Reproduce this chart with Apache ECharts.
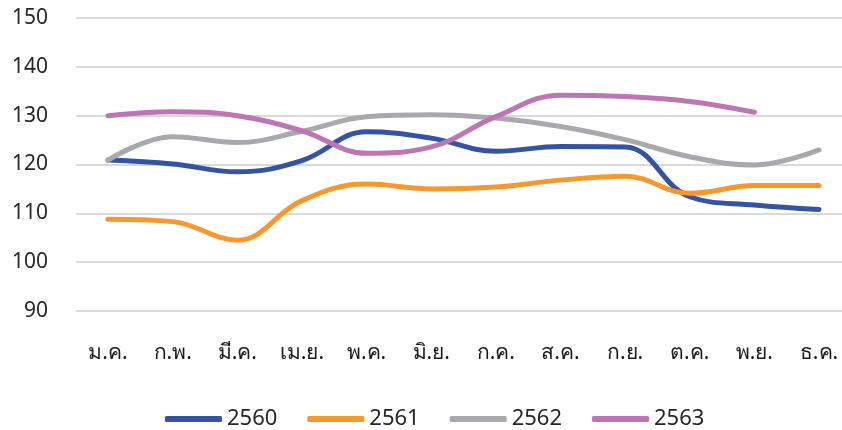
<!DOCTYPE html>
<html>
<head>
<meta charset="utf-8">
<script src="https://cdn.jsdelivr.net/npm/echarts@6/dist/echarts.min.js"></script>
<style>html,body{margin:0;padding:0;background:#fff}#c{width:842px;height:430px}</style>
</head>
<body>
<div id="c"></div>
<script>
const categories = ['ม.ค.','ก.พ.','มี.ค.','เม.ย.','พ.ค.','มิ.ย.','ก.ค.','ส.ค.','ก.ย.','ต.ค.','พ.ย.','ธ.ค.'];
const s2560 = [120.9,120.1,118.5,120.8,126.7,125.4,122.7,123.7,123.6,113.4,111.7,110.8];
const s2561 = [108.8,108.3,104.5,112.6,116.0,115.0,115.4,116.8,117.6,114.1,115.7,115.7];
const s2562 = [120.9,125.7,124.5,126.8,129.8,130.2,129.5,127.8,125.1,121.6,119.9,123.0];
const s2563 = [130.0,130.8,130.0,126.9,122.3,123.6,129.8,134.2,133.9,132.9,130.7];
const yTicks = {min:90, max:150, interval:10};
const names = ['2560','2561','2562','2563'];
const colors = ['#3453A4','#F7982E','#A9A9AD','#BD76B4'];
const font = '"Noto Sans", "Open Sans", sans-serif';
const chart = echarts.init(document.getElementById('c'));
const data = [s2560,s2561,s2562,s2563];
chart.setOption({
  animation:false,
  grid:[
    {left:76,right:0,top:18,height:293},
    {left:108,right:23,top:18,height:293}
  ],
  legend:{
    data:names, top:403, left:160, itemWidth:57, itemHeight:6, itemGap:30,
    icon:'roundRect',
    textStyle:{fontFamily:font,fontSize:22,color:'#262626'}
  },
  xAxis:[
    {gridIndex:0, type:'category', data:categories, show:false},
    {gridIndex:1, type:'category', data:categories, boundaryGap:false,
     axisLine:{show:false}, axisTick:{show:false}, splitLine:{show:false},
     axisLabel:{interval:0,margin:32,fontFamily:font,fontSize:21,color:'#1a1a1a'}}
  ],
  yAxis:[
    {gridIndex:0, type:'value', min:yTicks.min, max:yTicks.max, interval:yTicks.interval,
     axisLine:{show:false}, axisTick:{show:false},
     axisLabel:{margin:28,fontFamily:font,fontSize:21,color:'#262626'},
     splitLine:{lineStyle:{color:'#d9d9d9',width:2}}},
    {gridIndex:1, type:'value', min:yTicks.min, max:yTicks.max, interval:yTicks.interval, show:false,
     splitLine:{show:false}}
  ],
  series:data.map((d,i)=>({
    name:names[i], type:'line', xAxisIndex:1, yAxisIndex:1, data:d, smooth:0.4, showSymbol:false, symbol:'none',
    lineStyle:{color:colors[i],width:5,cap:'round'}, itemStyle:{color:colors[i]}
  }))
});
</script>
</body>
</html>
